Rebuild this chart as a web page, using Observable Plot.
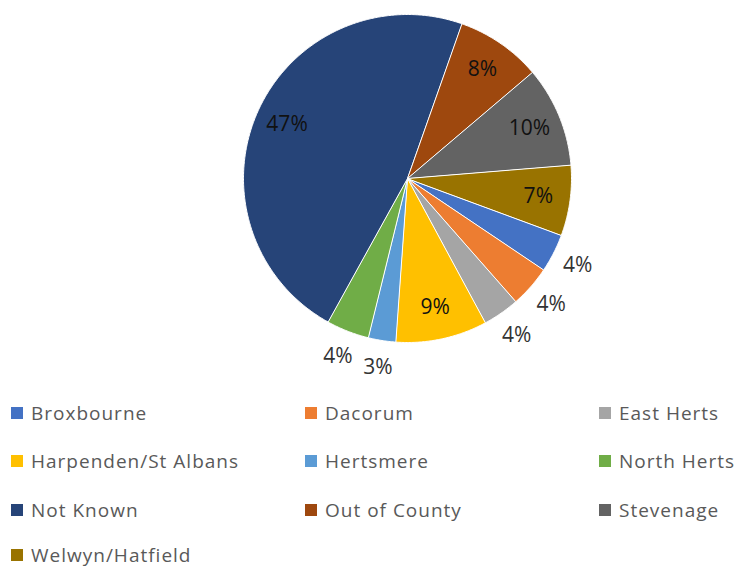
<!DOCTYPE html>
<html><head><meta charset="utf-8">
<script src="https://cdn.jsdelivr.net/npm/d3@7"></script>
<script src="https://cdn.jsdelivr.net/npm/@observablehq/plot@0.6"></script>
<style>
body{margin:0;background:#fff;font-family:"Open Sans",sans-serif;overflow:hidden;}
#chart svg{display:block;}
#legend{display:grid;grid-template-columns:294px 294px 146px;grid-template-rows:49px 48.5px 48.5px 41px;padding-left:11px;}
.item{display:flex;align-items:center;font-size:19px;color:#595959;letter-spacing:1px;white-space:nowrap;line-height:22px;}
.sw{width:12px;height:12px;margin-right:8px;flex:none;}
</style></head><body>
<div id="chart"></div><div id="legend"></div>
<script>
const categories = ["Broxbourne","Dacorum","East Herts","Harpenden/St Albans","Hertsmere","North Herts","Not Known","Out of County","Stevenage","Welwyn/Hatfield"];
const values = [3.8, 4.1, 3.6, 9.0, 2.7, 4.2, 47.3, 8.4, 9.9, 6.9];
const colors = ["#4472C4","#ED7D31","#A5A5A5","#FFC000","#5B9BD5","#70AD47","#264478","#9E480E","#636363","#997300"];
const startAngleDeg = 110.2;

const total = d3.sum(values);
const a0 = startAngleDeg * Math.PI / 180;
const arcs = d3.pie().sort(null).value(d => d).startAngle(a0).endAngle(a0 + 2 * Math.PI)(values);
const pt = (a, r) => [r * Math.sin(a), r * Math.cos(a)];

const slices = arcs.map((a, i) => {
  const n = Math.max(2, Math.ceil((a.endAngle - a.startAngle) / (Math.PI / 360)));
  const ring = [[0, 0]];
  for (let k = 0; k <= n; k++) ring.push(pt(a.startAngle + (a.endAngle - a.startAngle) * k / n, 1));
  ring.push([0, 0]);
  return {type: "Feature", properties: {name: categories[i]}, geometry: {type: "Polygon", coordinates: [ring]}};
});

const labels = arcs.map((a, i) => {
  const mid = (a.startAngle + a.endAngle) / 2;
  const share = values[i] / total * 100;
  const inside = share >= 6;
  const [x, y] = pt(mid, inside ? 0.805 : 1.165);
  return {x, y, label: Math.round(share) + "%", inside};
});

const chart = Plot.plot({
  width: 735,
  height: 388,
  marginLeft: 243,
  marginRight: 164,
  marginTop: 14,
  marginBottom: 46,
  projection: {type: "reflect-y", domain: {type: "MultiPoint", coordinates: [[-1, -1], [1, 1]]}, clip: false},
  color: {domain: categories, range: colors},
  style: {fontFamily: "Open Sans", background: "white", overflow: "visible"},
  marks: [
    Plot.geo(slices, {fill: d => d.properties.name, stroke: "white", strokeWidth: 1}),
    Plot.text(labels.filter(d => d.inside), {x: "x", y: "y", text: "label", fontSize: 21, fill: "#111111", fontFamily: "Open Sans"}),
    Plot.text(labels.filter(d => !d.inside), {x: "x", y: "y", text: "label", fontSize: 21, fill: "#333333", fontFamily: "Open Sans"})
  ]
});
document.getElementById("chart").append(chart);

const legend = document.getElementById("legend");
categories.forEach((c, i) => {
  const item = document.createElement("div");
  item.className = "item";
  const sw = document.createElement("span");
  sw.className = "sw";
  sw.style.background = colors[i];
  item.append(sw, document.createTextNode(c));
  legend.append(item);
});
</script>
</body></html>
